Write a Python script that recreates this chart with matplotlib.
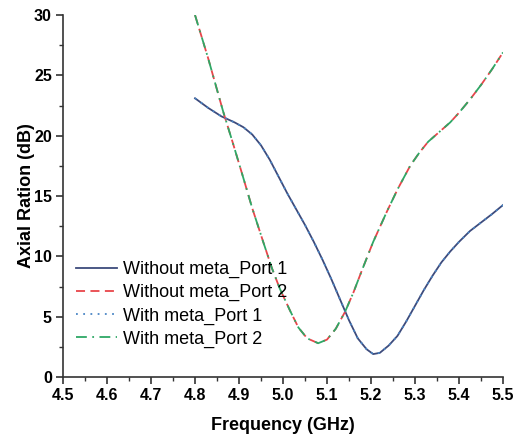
import matplotlib
matplotlib.use('Agg')
import matplotlib.pyplot as plt
from matplotlib.ticker import MultipleLocator

plt.rcParams['font.family'] = ['Liberation Sans', 'DejaVu Sans']

# 频率 (GHz) 与轴比 (dB)
freq_p1 = [4.80, 4.83, 4.86, 4.89, 4.91, 4.93, 4.95, 4.97, 4.99, 5.01, 5.03,
           5.05, 5.07, 5.09, 5.11, 5.13, 5.15, 5.17, 5.19, 5.205, 5.22, 5.24,
           5.26, 5.28, 5.30, 5.32, 5.34, 5.36, 5.38, 5.40, 5.425, 5.45, 5.475, 5.50]
ar_p1 = [23.1, 22.3, 21.6, 21.1, 20.7, 20.1, 19.2, 18.0, 16.6, 15.2, 13.9,
         12.6, 11.2, 9.7, 8.1, 6.4, 4.7, 3.2, 2.3, 1.9, 2.0, 2.6,
         3.4, 4.6, 5.9, 7.2, 8.4, 9.5, 10.4, 11.2, 12.1, 12.8, 13.5, 14.25]

freq_p2 = [4.80, 4.83, 4.864, 4.886, 4.909, 4.93, 4.955, 4.975, 4.993, 5.016,
           5.035, 5.055, 5.08, 5.10, 5.12, 5.141, 5.16, 5.18, 5.205, 5.236,
           5.261, 5.289, 5.31, 5.33, 5.355, 5.38, 5.40, 5.425, 5.45, 5.475, 5.50]
ar_p2 = [30.0, 26.4, 22.0, 19.4, 16.6, 14.0, 11.2, 9.0, 7.3, 5.5,
         4.1, 3.2, 2.8, 3.1, 4.0, 5.4, 7.0, 8.9, 11.2, 13.7,
         15.6, 17.5, 18.6, 19.5, 20.3, 21.1, 21.9, 23.0, 24.2, 25.5, 26.9]

# 加载超材料后的曲线与原曲线几乎重合
freq_meta_p1 = freq_p1
ar_meta_p1 = ar_p1
freq_meta_p2 = freq_p2
ar_meta_p2 = ar_p2

labels = ['Without meta_Port 1', 'Without meta_Port 2',
          'With meta_Port 1', 'With meta_Port 2']

fig = plt.figure(figsize=(5.15, 4.41), dpi=100)
ax = fig.add_axes([63 / 515, 64 / 441, 440 / 515, 362 / 441])

ax.plot(freq_p1, ar_p1, color='#3d4b7c', lw=1.3, ls='-', label=labels[0])
ax.plot(freq_p2, ar_p2, color='#e8454a', lw=1.3, ls=(0, (5, 3)), label=labels[1])
ax.plot(freq_meta_p1, ar_meta_p1, color='#4a86c5', lw=1.3, ls=(0, (1, 3)), label=labels[2])
ax.plot(freq_meta_p2, ar_meta_p2, color='#2ea866', lw=1.3, ls=(0, (6, 3, 1, 3)), label=labels[3])

ax.set_xlim(4.5, 5.5)
ax.set_ylim(0, 30)
ax.xaxis.set_major_locator(MultipleLocator(0.1))
ax.xaxis.set_minor_locator(MultipleLocator(0.05))
ax.yaxis.set_major_locator(MultipleLocator(5))
ax.yaxis.set_minor_locator(MultipleLocator(2.5))

for s in ['top', 'right']:
    ax.spines[s].set_visible(False)
for s in ['left', 'bottom']:
    ax.spines[s].set_color('#333333')
    ax.spines[s].set_linewidth(1.2)

ax.tick_params(which='major', direction='out', length=5, width=1.2, color='#333333',
               labelsize=11.5, pad=3)
ax.tick_params(which='minor', direction='out', length=3, width=1.0, color='#333333')
for lab in ax.get_xticklabels() + ax.get_yticklabels():
    lab.set_fontweight('bold')
ax.xaxis.set_major_formatter(matplotlib.ticker.FormatStrFormatter('%.1f'))

ax.set_xlabel('Frequency (GHz)', fontsize=13, fontweight='bold', labelpad=10)
ax.set_ylabel('Axial Ration (dB)', fontsize=13, fontweight='bold', labelpad=-1)

ax.legend(loc='upper left', bbox_to_anchor=(0.0, 0.355), frameon=False,
          fontsize=13, handlelength=2.3, handletextpad=0.3, labelspacing=0.33,
          borderaxespad=0.3)

fig.savefig('out.png', dpi=100)
